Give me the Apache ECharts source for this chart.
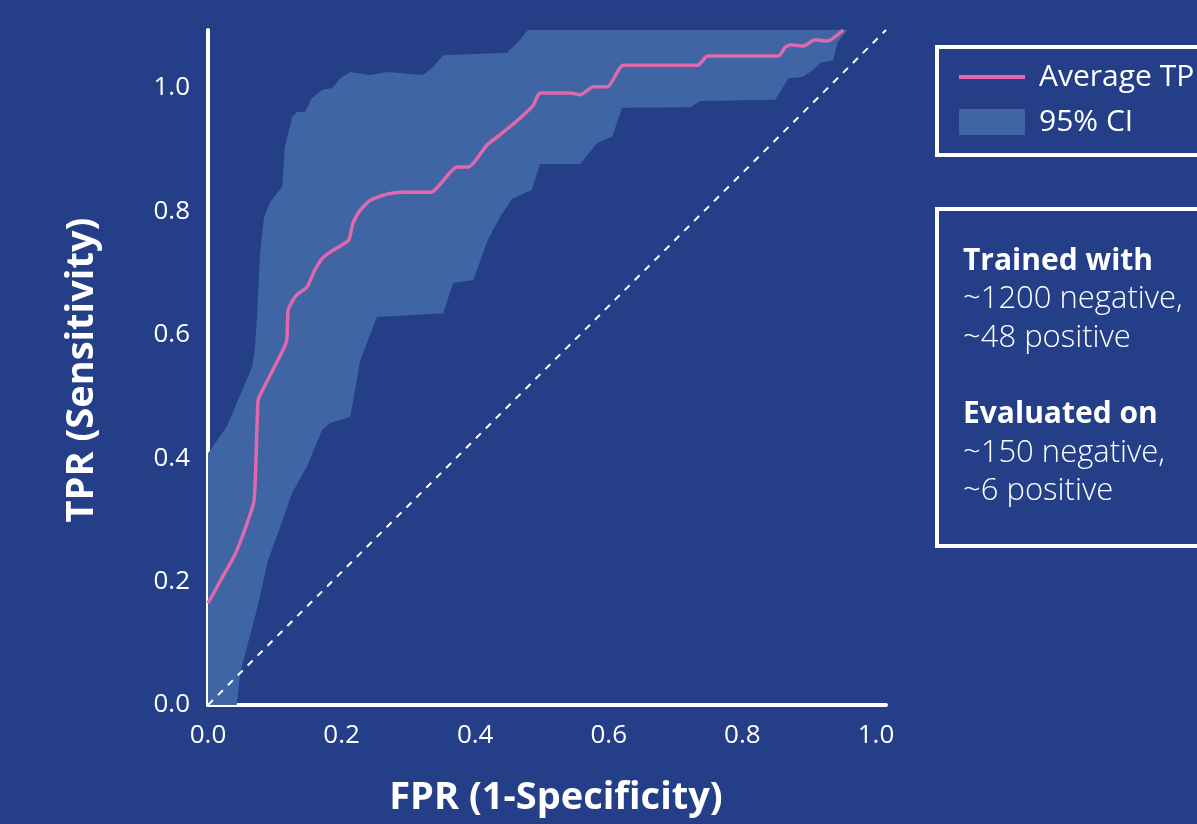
<!DOCTYPE html>
<html>
<head>
<meta charset="utf-8">
<script src="https://cdn.jsdelivr.net/npm/echarts@6/dist/echarts.min.js"></script>
<style>
html,body{margin:0;padding:0;background:#243f88;}
#chart{width:1197px;height:824px;}
</style>
</head>
<body>
<div id="chart"></div>
<script>
// Axis extents
const xMax = 1.015;
const yMax = 1.094;
const xTicks = ['0.0','0.2','0.4','0.6','0.8','1.0'];
const yTicks = ['0.0','0.2','0.4','0.6','0.8','1.0'];

// Average TPR curve
const meanX = [0, 0.021, 0.040, 0.055, 0.069, 0.075, 0.082, 0.112, 0.118, 0.120, 0.127, 0.133, 0.148, 0.160, 0.171, 0.183, 0.201, 0.211, 0.217, 0.228, 0.243, 0.268, 0.292, 0.333, 0.373, 0.390, 0.418, 0.437, 0.467, 0.487, 0.497, 0.542, 0.557, 0.577, 0.598, 0.622, 0.733, 0.748, 0.854, 0.864, 0.872, 0.891, 0.909, 0.927, 0.951];
const meanY = [0.165, 0.206, 0.243, 0.284, 0.332, 0.494, 0.511, 0.575, 0.592, 0.640, 0.656, 0.665, 0.677, 0.705, 0.724, 0.734, 0.746, 0.754, 0.781, 0.802, 0.818, 0.828, 0.831, 0.831, 0.872, 0.872, 0.908, 0.924, 0.951, 0.972, 0.992, 0.992, 0.989, 1.002, 1.002, 1.037, 1.037, 1.052, 1.052, 1.066, 1.070, 1.068, 1.078, 1.076, 1.094];

// 95% CI upper bound
const upperX = [0, 0.028, 0.066, 0.070, 0.073, 0.078, 0.084, 0.093, 0.111, 0.115, 0.126, 0.133, 0.145, 0.156, 0.171, 0.186, 0.198, 0.213, 0.243, 0.268, 0.322, 0.337, 0.352, 0.448, 0.467, 0.479, 0.957];
const upperY = [0.408, 0.451, 0.548, 0.575, 0.624, 0.733, 0.791, 0.815, 0.840, 0.904, 0.953, 0.961, 0.961, 0.984, 0.997, 1.000, 1.016, 1.026, 1.021, 1.026, 1.021, 1.034, 1.053, 1.057, 1.078, 1.094, 1.094];

// 95% CI lower bound
const lowerX = [0, 0.043, 0.048, 0.073, 0.090, 0.108, 0.126, 0.148, 0.171, 0.183, 0.213, 0.228, 0.253, 0.352, 0.367, 0.397, 0.419, 0.437, 0.455, 0.485, 0.497, 0.557, 0.583, 0.605, 0.620, 0.722, 0.737, 0.849, 0.869, 0.890, 0.906, 0.917, 0.936, 0.942, 0.957];
const lowerY = [0, 0, 0.052, 0.154, 0.235, 0.288, 0.344, 0.386, 0.446, 0.457, 0.467, 0.559, 0.629, 0.635, 0.684, 0.689, 0.754, 0.791, 0.820, 0.835, 0.877, 0.877, 0.911, 0.921, 0.968, 0.969, 0.979, 0.981, 1.016, 1.018, 1.029, 1.041, 1.045, 1.073, 1.094];

// Chance diagonal
const diagX = [0, xMax];
const diagY = [0, yMax];

const FONT = '"Open Sans", Lato, sans-serif';
const BG = '#243f88';
const BAND = '#3f65a5';
const PINK = '#e068ac';

const chart = echarts.init(document.getElementById('chart'), null, {renderer: 'canvas'});

function tickFmt(list) {
  return function (v) {
    const k = Math.round(v * 5);
    if (Math.abs(v * 5 - k) < 1e-6 && k >= 0 && k < list.length) return list[k];
    return '';
  };
}

const option = {
  backgroundColor: BG,
  animation: false,
  grid: {left: 208, right: 311, top: 30, bottom: 119, containLabel: false},
  xAxis: {
    type: 'value', min: 0, max: xMax, interval: 0.2,
    axisLine: {show: true, onZero: false, lineStyle: {color: '#ffffff', width: 4}},
    axisTick: {show: false},
    splitLine: {show: false},
    axisLabel: {color: '#ffffff', fontFamily: FONT, fontSize: 26, margin: 18, showMaxLabel: false, formatter: tickFmt(xTicks)}
  },
  yAxis: {
    type: 'value', min: 0, max: yMax, interval: 0.2,
    axisLine: {show: true, onZero: false, lineStyle: {color: '#ffffff', width: 4}},
    axisTick: {show: false},
    splitLine: {show: false},
    axisLabel: {color: '#ffffff', fontFamily: FONT, fontSize: 26, margin: 18, showMaxLabel: false, formatter: tickFmt(yTicks)}
  },
  legend: {
    orient: 'vertical',
    left: 959, top: 62,
    itemWidth: 66, itemHeight: 26, itemGap: 15,
    padding: 0,
    textStyle: {color: '#ffffff', fontFamily: FONT, fontSize: 30, padding: [0, 0, 0, 9]},
    data: [
      {name: 'Average TPR', icon: 'path://M0,0H100V6H0Z'},
      {name: '95% CI', icon: 'rect'}
    ]
  },
  series: [
    {
      name: '95% CI',
      type: 'custom',
      coordinateSystem: 'cartesian2d',
      clip: true,
      z: 1,
      itemStyle: {color: BAND},
      data: [[0, 0]],
      renderItem: function (params, api) {
        const pts = [];
        for (let i = 0; i < upperX.length; i++) pts.push(api.coord([upperX[i], upperY[i]]));
        for (let i = lowerX.length - 1; i >= 0; i--) pts.push(api.coord([lowerX[i], lowerY[i]]));
        return {type: 'polygon', shape: {points: pts}, style: {fill: BAND, stroke: null}};
      }
    },
    {
      name: 'Chance',
      type: 'line',
      z: 2,
      symbol: 'none',
      silent: true,
      lineStyle: {color: '#ffffff', width: 2, type: [7, 7]},
      data: diagX.map((x, i) => [x, diagY[i]])
    },
    {
      name: 'Average TPR',
      type: 'line',
      z: 3,
      symbol: 'none',
      smooth: 0.2,
      lineStyle: {color: PINK, width: 3.5},
      itemStyle: {color: PINK},
      data: meanX.map((x, i) => [x, meanY[i]])
    }
  ],
  graphic: [
    {type: 'rect', z: 10, shape: {x: 937, y: 47, width: 320, height: 108}, style: {fill: 'none', stroke: '#ffffff', lineWidth: 4}},
    {type: 'rect', z: 10, shape: {x: 937, y: 209, width: 320, height: 337}, style: {fill: 'none', stroke: '#ffffff', lineWidth: 4}},
    {type: 'text', z: 10, style: {text: 'Trained with', x: 963, y: 261, verticalAlign: 'middle', fill: '#ffffff', font: 'bold 30px ' + FONT}},
    {type: 'text', z: 10, style: {text: '~1200 negative,', x: 963, y: 299, verticalAlign: 'middle', fill: '#ffffff', font: '300 31px ' + FONT}},
    {type: 'text', z: 10, style: {text: '~48 positive', x: 963, y: 338, verticalAlign: 'middle', fill: '#ffffff', font: '300 31px ' + FONT}},
    {type: 'text', z: 10, style: {text: 'Evaluated on', x: 963, y: 414, verticalAlign: 'middle', fill: '#ffffff', font: 'bold 30px ' + FONT}},
    {type: 'text', z: 10, style: {text: '~150 negative,', x: 963, y: 453, verticalAlign: 'middle', fill: '#ffffff', font: '300 31px ' + FONT}},
    {type: 'text', z: 10, style: {text: '~6 positive', x: 963, y: 491, verticalAlign: 'middle', fill: '#ffffff', font: '300 31px ' + FONT}},
    {type: 'text', z: 10, style: {text: 'FPR (1-Specificity)', x: 556, y: 798, align: 'center', verticalAlign: 'middle', fill: '#ffffff', font: 'bold 38px ' + FONT}},
    {type: 'text', z: 10, x: 82, y: 370, rotation: Math.PI / 2, style: {text: 'TPR (Sensitivity)', x: 0, y: 0, align: 'center', verticalAlign: 'middle', fill: '#ffffff', font: 'bold 38px ' + FONT}}
  ]
};
chart.setOption(option);
</script>
</body>
</html>
